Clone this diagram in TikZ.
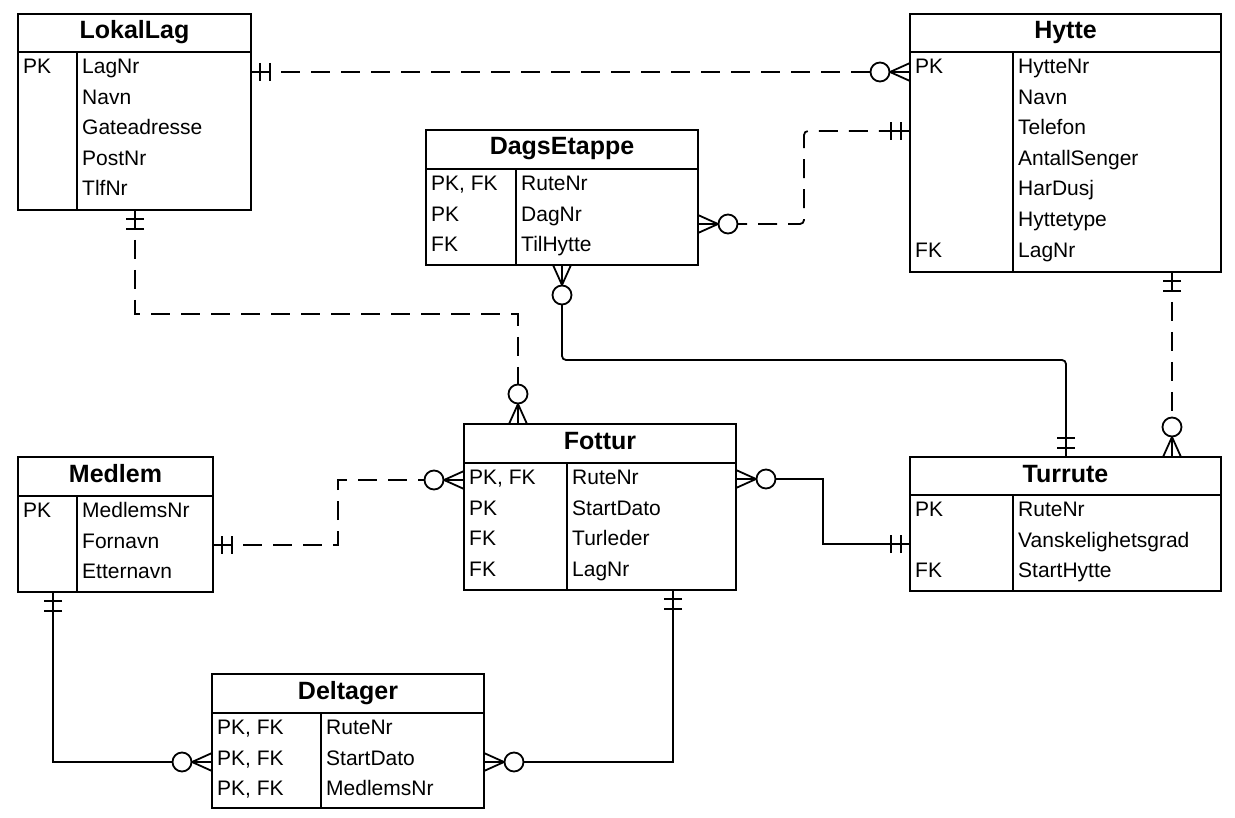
\documentclass[tikz,border=0pt]{standalone}
\usepackage{fontspec}
\setmainfont{Liberation Sans}
\usetikzlibrary{fit}
\newcommand{\fieldfont}{\fontsize{21}{25}\selectfont}
\newcommand{\titlefont}{\fontsize{25}{30}\selectfont\bfseries}
\tikzset{
  ebox/.style={draw, line width=1.8pt, inner sep=0pt},
  eline/.style={line width=1.8pt},
  etext/.style={anchor=base west, inner sep=0pt, font=\fieldfont},
  etitle/.style={anchor=base, inner sep=0pt, font=\titlefont},
  conn/.style={line width=1.8pt},
  dashconn/.style={conn, dash pattern=on 19pt off 11pt},
  mline/.style={line width=1.8pt, solid},
}
% entity: name, left, top, right, bottom, title bottom, divider x, title
\newcommand{\ent}[8]{%
  \node[ebox, fit={(#2,#3) (#4,#5)}] (#1) {};
  \draw[eline] (#2,#6) -- (#4,#6);
  \draw[eline] (#7,#6) -- (#7,#5);
  \node[etitle] (#1-title) at ({(#2+#4)/2},{#3+25}) {#8};
}
% row with key: name, index, left, divider, title bottom, key, field
\newcommand{\erow}[7]{%
  \node[etext] (#1-k#2) at ({#3+5},{#5+21.5+30.6*#2}) {#6};
  \node[etext] (#1-f#2) at ({#4+5},{#5+21.5+30.6*#2}) {#7};
}
% row without key: name, index, divider, title bottom, field
\newcommand{\erowf}[5]{%
  \node[etext] (#1-f#2) at ({#3+5},{#4+21.5+30.6*#2}) {#5};
}
% zero-or-many marker at coordinate #1, outward direction angle #2
\newcommand{\zmany}[2]{%
  \begin{scope}[shift={(#1)}, rotate=#2]
    \draw[mline] (0,9) -- (20,0) -- (0,-9);
    \draw[mline] (0,0) -- (20,0);
    \draw[mline, fill=white] (30,0) circle[radius=9.5];
  \end{scope}}
% one-and-only-one marker
\newcommand{\oone}[2]{%
  \begin{scope}[shift={(#1)}, rotate=#2]
    \draw[mline] (0,0) -- (19,0);
    \draw[mline] (9,-9) -- (9,9);
    \draw[mline] (19,-9) -- (19,9);
  \end{scope}}
\begin{document}
\begin{tikzpicture}[x=1pt, y=-1pt]
\useasboundingbox (0,0) rectangle (1235,818);
\fill[white] (0,0) rectangle (1235,818);

% ---------- entities ----------
\ent{lokallag}{18}{14}{251}{210}{52}{77}{LokalLag}
\erow{lokallag}{0}{18}{77}{52}{PK}{LagNr}
\erowf{lokallag}{1}{77}{52}{Navn}
\erowf{lokallag}{2}{77}{52}{Gateadresse}
\erowf{lokallag}{3}{77}{52}{PostNr}
\erowf{lokallag}{4}{77}{52}{TlfNr}

\ent{hytte}{910}{14}{1221}{272}{52}{1013}{Hytte}
\erow{hytte}{0}{910}{1013}{52}{PK}{HytteNr}
\erowf{hytte}{1}{1013}{52}{Navn}
\erowf{hytte}{2}{1013}{52}{Telefon}
\erowf{hytte}{3}{1013}{52}{AntallSenger}
\erowf{hytte}{4}{1013}{52}{HarDusj}
\erowf{hytte}{5}{1013}{52}{Hyttetype}
\erow{hytte}{6}{910}{1013}{52}{FK}{LagNr}

\ent{dags}{426}{130}{698}{265}{169}{516}{DagsEtappe}
\erow{dags}{0}{426}{516}{169}{PK, FK}{RuteNr}
\erow{dags}{1}{426}{516}{169}{PK}{DagNr}
\erow{dags}{2}{426}{516}{169}{FK}{TilHytte}

\ent{fottur}{464}{424}{736}{590}{463}{567}{Fottur}
\erow{fottur}{0}{464}{567}{463}{PK, FK}{RuteNr}
\erow{fottur}{1}{464}{567}{463}{PK}{StartDato}
\erow{fottur}{2}{464}{567}{463}{FK}{Turleder}
\erow{fottur}{3}{464}{567}{463}{FK}{LagNr}

\ent{medlem}{18}{457}{213}{592}{496}{77}{Medlem}
\erow{medlem}{0}{18}{77}{496}{PK}{MedlemsNr}
\erowf{medlem}{1}{77}{496}{Fornavn}
\erowf{medlem}{2}{77}{496}{Etternavn}

\ent{turrute}{910}{457}{1221}{591}{495}{1013}{Turrute}
\erow{turrute}{0}{910}{1013}{495}{PK}{RuteNr}
\erowf{turrute}{1}{1013}{495}{Vanskelighetsgrad}
\erow{turrute}{2}{910}{1013}{495}{FK}{StartHytte}

\ent{deltager}{212}{674}{484}{808}{713}{321}{Deltager}
\erow{deltager}{0}{212}{321}{713}{PK, FK}{RuteNr}
\erow{deltager}{1}{212}{321}{713}{PK, FK}{StartDato}
\erow{deltager}{2}{212}{321}{713}{PK, FK}{MedlemsNr}

% ---------- connector end points ----------
\coordinate (lkE)  at (251,72);
\coordinate (hyW1) at (910,72);
\coordinate (deE)  at (698,224);
\coordinate (hyW2) at (910,131);
\coordinate (lkS)  at (135,210);
\coordinate (foN)  at (518,424);
\coordinate (deS)  at (562,265);
\coordinate (tuN1) at (1066,457);
\coordinate (hyS)  at (1172,272);
\coordinate (tuN2) at (1172,457);
\coordinate (meE)  at (213,545);
\coordinate (foW)  at (464,480);
\coordinate (foE)  at (736,479);
\coordinate (tuW)  at (910,544);
\coordinate (meS)  at (53,592);
\coordinate (dlW)  at (212,762);
\coordinate (foS)  at (673,590);
\coordinate (dlE)  at (484,762);

% ---------- connectors ----------
\draw[dashconn] (lkE) -- (hyW1);
\draw[dashconn, rounded corners=4pt] (deE) -- ++(106,0) |- (hyW2);
\draw[dashconn] (lkS) -- ++(0,104) -| (foN);
\draw[conn, rounded corners=4pt] (deS) -- ++(0,95) -| (tuN1);
\draw[dashconn] (hyS) -- (tuN2);
\draw[dashconn] (meE) -- ++(125,0) |- (foW);
\draw[conn] (foE) -- ++(87,0) |- (tuW);
\draw[conn] (meS) |- (dlW);
\draw[conn] (foS) |- (dlE);

% ---------- cardinality markers ----------
\oone{lkE}{0}    \zmany{hyW1}{180}
\zmany{deE}{0}   \oone{hyW2}{180}
\oone{lkS}{-90}  \zmany{foN}{90}
\zmany{deS}{-90} \oone{tuN1}{90}
\oone{hyS}{-90}  \zmany{tuN2}{90}
\oone{meE}{0}    \zmany{foW}{180}
\zmany{foE}{0}   \oone{tuW}{180}
\oone{meS}{-90}  \zmany{dlW}{180}
\oone{foS}{-90}  \zmany{dlE}{0}
\end{tikzpicture}
\end{document}
